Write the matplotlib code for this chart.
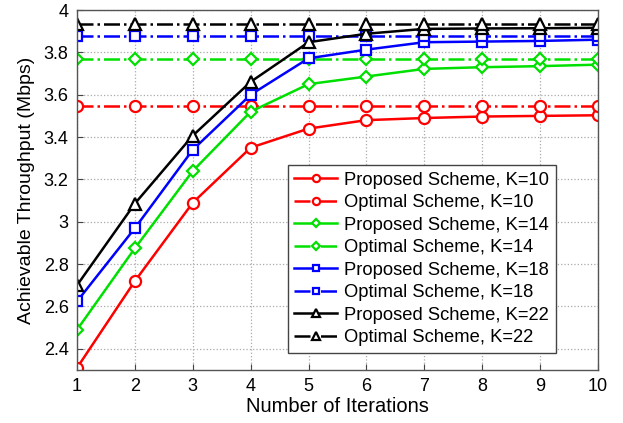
import numpy as np
import matplotlib.pyplot as plt

plt.rcParams['font.family'] = ['Liberation Sans', 'DejaVu Sans']

iterations = [1, 2, 3, 4, 5, 6, 7, 8, 9, 10]

proposed_k10 = [2.31, 2.72, 3.09, 3.35, 3.44, 3.48, 3.49, 3.497, 3.50, 3.503]
proposed_k14 = [2.49, 2.875, 3.24, 3.52, 3.65, 3.686, 3.722, 3.73, 3.735, 3.742]
proposed_k18 = [2.624, 2.97, 3.34, 3.60, 3.772, 3.813, 3.848, 3.851, 3.854, 3.86]
proposed_k22 = [2.70, 3.086, 3.407, 3.661, 3.848, 3.888, 3.911, 3.913, 3.914, 3.916]

optimal_k10 = [3.546] * 10
optimal_k14 = [3.77] * 10
optimal_k18 = [3.876] * 10
optimal_k22 = [3.936] * 10

K_VALUES = [10, 14, 18, 22]
COLORS = ['#ff0000', '#00e000', '#0000ff', '#000000']
MARKERS = ['o', 'D', 's', '^']
MSIZES = [8, 6.5, 7, 8]

fig = plt.figure(figsize=(6.23, 4.23), dpi=100)
ax = fig.add_axes([0.1236, 0.1253, 0.8363, 0.851])

proposed = [proposed_k10, proposed_k14, proposed_k18, proposed_k22]
optimal = [optimal_k10, optimal_k14, optimal_k18, optimal_k22]

for k, c, m, ms, yp, yo in zip(K_VALUES, COLORS, MARKERS, MSIZES, proposed, optimal):
    ax.plot(iterations, yp, color=c, linestyle='-', linewidth=1.8, marker=m,
            markersize=ms, markerfacecolor='white', markeredgewidth=1.6,
            label=f'Proposed Scheme, K={k}')
    ax.plot(iterations, yo, color=c, linestyle='-.', linewidth=1.8, marker=m,
            markersize=ms, markerfacecolor='white', markeredgewidth=1.6,
            label=f'Optimal Scheme, K={k}')

ax.set_xlim(1, 10)
ax.set_ylim(2.3, 4.0)
ax.set_xticks(iterations)
ax.set_yticks([2.4, 2.6, 2.8, 3.0, 3.2, 3.4, 3.6, 3.8, 4.0])
ax.set_yticklabels(['2.4', '2.6', '2.8', '3', '3.2', '3.4', '3.6', '3.8', '4'])
ax.tick_params(direction='in', labelsize=13, length=4, color='#444444', pad=6)
ax.grid(True, linestyle=':', linewidth=0.9, color='#aaaaaa')
for spine in ax.spines.values():
    spine.set_edgecolor('#555555')
    spine.set_linewidth(1.0)

ax.set_xlabel('Number of Iterations', fontsize=14.5, labelpad=1)
ax.set_ylabel('Achievable Throughput (Mbps)', fontsize=14, labelpad=6)

# legend box roughly x 287..556, y 163..353 px
leg = ax.legend(loc='lower right', bbox_to_anchor=(0.919, 0.047), borderaxespad=0,
                fontsize=13.2, fancybox=False, framealpha=1, edgecolor='#444444',
                handlelength=2.3, markerscale=0.65, labelspacing=0.3,
                borderpad=0.38, handletextpad=0.4)
leg.get_frame().set_linewidth(1.0)

fig.savefig('out.png', dpi=100, facecolor='white')
